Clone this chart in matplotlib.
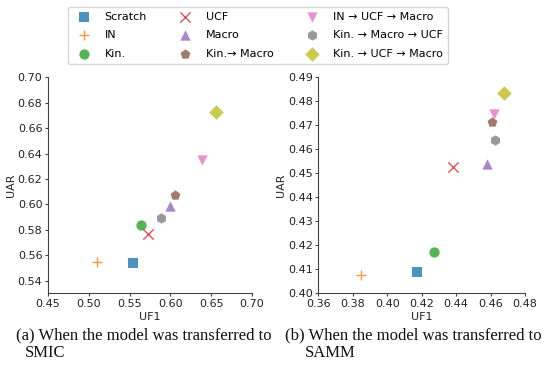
import matplotlib
matplotlib.use("Agg")
import matplotlib.pyplot as plt

labels = ["Scratch", "IN", "Kin.", "UCF", "Macro", "Kin.\u2192 Macro",
          "IN \u2192 UCF \u2192 Macro", "Kin. \u2192 Macro \u2192 UCF", "Kin. \u2192 UCF \u2192 Macro"]
markers = ["s", "+", "o", "x", "^", "p", "v", "h", "D"]
colors = ["#1f77b4", "#ff7f0e", "#2ca02c", "#d62728", "#9467bd", "#8c564b",
          "#e377c2", "#7f7f7f", "#bcbd22"]

smic_uf1 = [0.554, 0.510, 0.564, 0.573, 0.599, 0.606, 0.639, 0.589, 0.656]
smic_uar = [0.554, 0.555, 0.584, 0.577, 0.599, 0.607, 0.635, 0.589, 0.673]

samm_uf1 = [0.4175, 0.385, 0.427, 0.438, 0.458, 0.461, 0.462, 0.4625, 0.468]
samm_uar = [0.409, 0.4075, 0.4173, 0.4525, 0.4536, 0.471, 0.4744, 0.4637, 0.4831]

smic_xticks = [0.45, 0.50, 0.55, 0.60, 0.65, 0.70]
smic_yticks = [0.54, 0.56, 0.58, 0.60, 0.62, 0.64, 0.66, 0.68, 0.70]
samm_xticks = [0.36, 0.38, 0.40, 0.42, 0.44, 0.46, 0.48]
samm_yticks = [0.40, 0.41, 0.42, 0.43, 0.44, 0.45, 0.46, 0.47, 0.48, 0.49]

W, H = 550, 372
fig = plt.figure(figsize=(W / 100, H / 100), dpi=100)
plt.rcParams['font.family'] = ['DejaVu Sans']

def px_axes(x0, y0, x1, y1):
    return fig.add_axes([x0 / W, 1 - y1 / H, (x1 - x0) / W, (y1 - y0) / H])

ax1 = px_axes(48, 77.3, 252, 293.3)
ax2 = px_axes(318.3, 76.7, 525, 293.3)

FS = 8
handles = []
for ax, xs, ys in [(ax1, smic_uf1, smic_uar), (ax2, samm_uf1, samm_uar)]:
    for i in range(len(labels)):
        h = ax.scatter(xs[i], ys[i], marker=markers[i], color=colors[i], s=55, alpha=0.8,
                       linewidths=1.0 if markers[i] in ("+", "x") else 0,
                       label=labels[i], zorder=3)
        if ax is ax1:
            handles.append(h)
    for s in ("top", "right"):
        ax.spines[s].set_visible(False)
    for s in ("left", "bottom"):
        ax.spines[s].set_color("#444444")
        ax.spines[s].set_linewidth(0.8)
    ax.tick_params(labelsize=FS, length=2.5, width=0.8, pad=1.5, colors="#444444", labelcolor="#222222")
    ax.set_xlabel("UF1", fontsize=FS, labelpad=2, color="#222222")
    ax.set_ylabel("UAR", fontsize=FS, labelpad=1, color="#222222")

ax1.set_xlim(0.45, 0.70)
ax1.set_ylim(0.53, 0.70)
ax1.set_xticks(smic_xticks)
ax1.set_xticklabels([f"{v:.2f}" for v in smic_xticks])
ax1.set_yticks(smic_yticks)
ax1.set_yticklabels([f"{v:.2f}" for v in smic_yticks])

ax2.set_xlim(0.36, 0.48)
ax2.set_ylim(0.40, 0.49)
ax2.set_xticks(samm_xticks)
ax2.set_xticklabels([f"{v:.2f}" for v in samm_xticks])
ax2.set_yticks(samm_yticks)
ax2.set_yticklabels([f"{v:.2f}" for v in samm_yticks])

fig.legend(handles=handles, loc="upper center", bbox_to_anchor=(257.5 / W, 1 - 1 / H),
           ncol=3, fontsize=FS, frameon=True, fancybox=True, edgecolor="#cccccc",
           handletextpad=0.9, columnspacing=2.4, borderpad=0.45, labelspacing=0.78)

serif = dict(family=["Liberation Serif"], fontsize=12, color="#111111")
fig.text(16 / W, 1 - 335 / H, "(a) When the model was transferred to", va="center", ha="left", **serif)
fig.text(25 / W, 1 - 353 / H, "SMIC", va="center", ha="left", **serif)
fig.text(285 / W, 1 - 335 / H, "(b) When the model was transferred to", va="center", ha="left", **serif)
fig.text(305 / W, 1 - 353 / H, "SAMM", va="center", ha="left", **serif)

fig.savefig("out.png", dpi=100)
